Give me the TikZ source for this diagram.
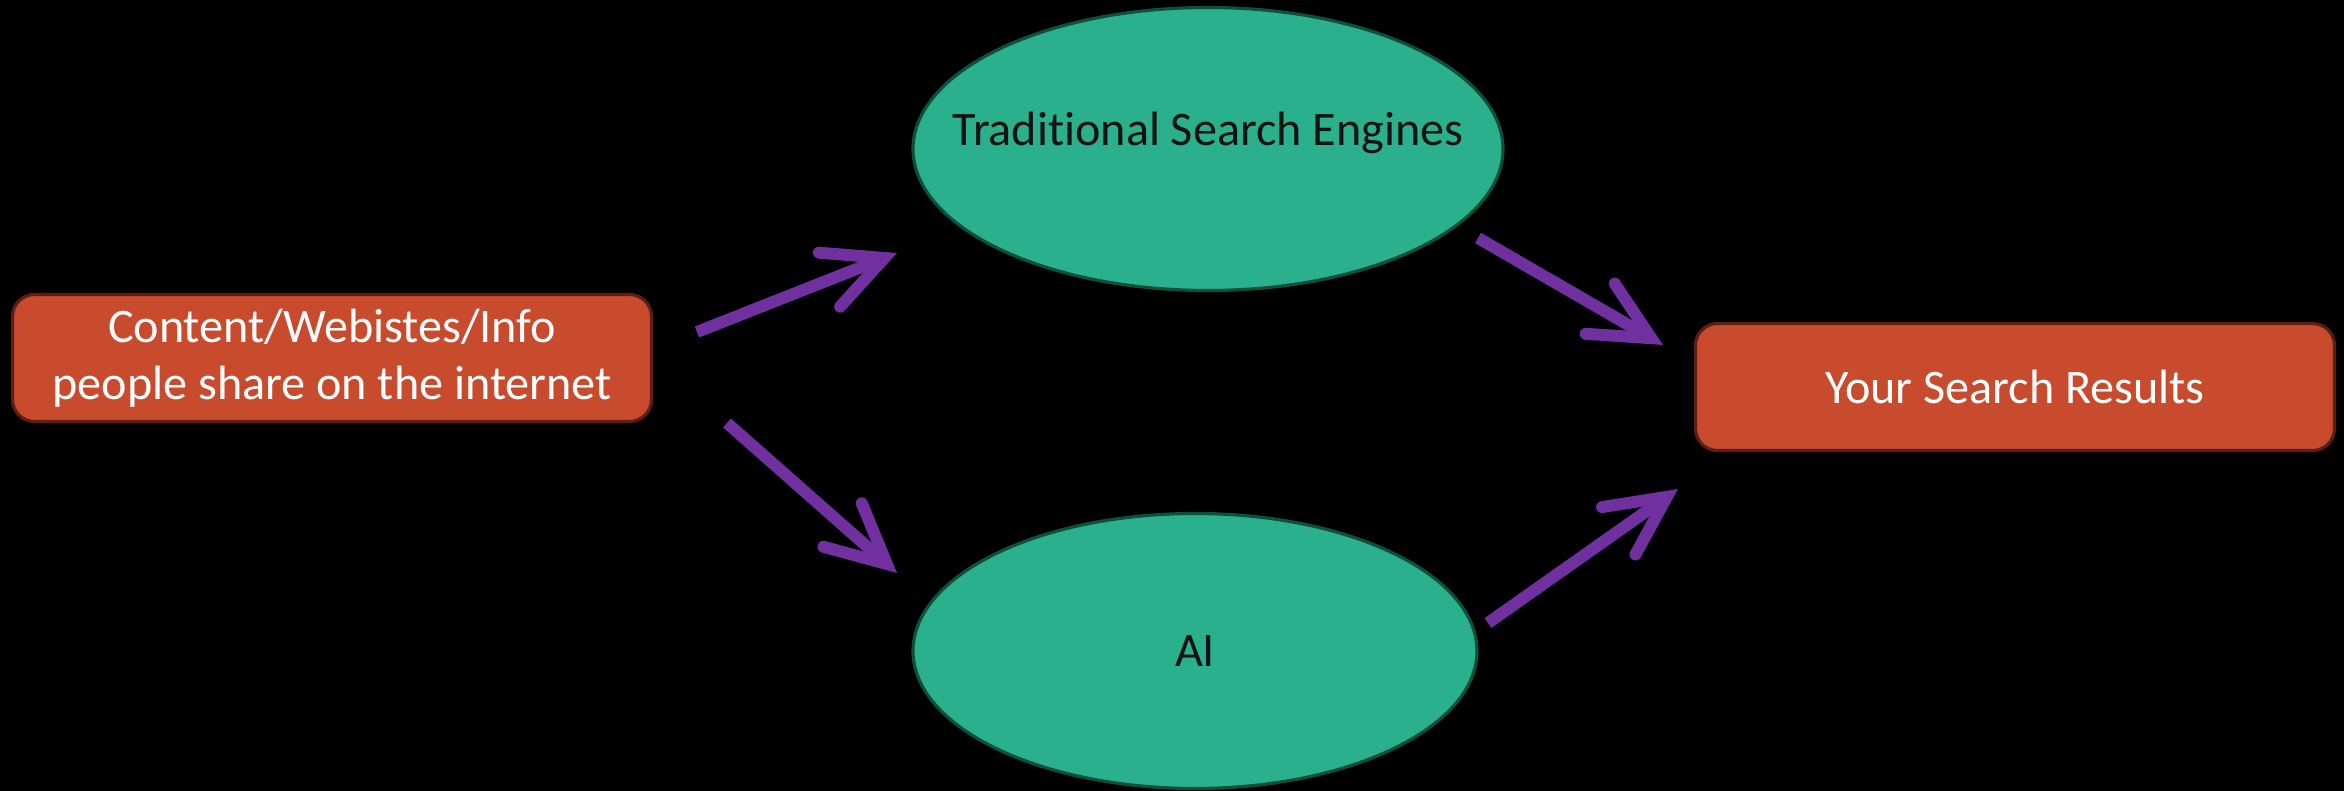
\documentclass[tikz,border=0pt]{standalone}
\usepackage{fontspec}
\setmainfont[Ligatures={NoCommon,NoContextual,NoRare}]{Carlito}
\usetikzlibrary{shapes.geometric, arrows.meta}
\definecolor{boxred}{HTML}{C84B2E}
\definecolor{boxedge}{HTML}{5C1F12}
\definecolor{enggreen}{HTML}{2AB08D}
\definecolor{engedge}{HTML}{0E4F3E}
\definecolor{flowpurple}{HTML}{7030A0}
\begin{document}
\begin{tikzpicture}
[font=\fontsize{13.7pt}{16.3pt}\selectfont]
\tikzstyle{box}=[rectangle, rounded corners=2.2mm, draw=boxedge, line width=0.9pt, fill=boxred, text=white, align=center, minimum width=6.39cm, minimum height=1.27cm]
\tikzstyle{engine}=[ellipse, draw=engedge, line width=0.9pt, fill=enggreen, text=black!93, inner xsep=-0.6cm, inner ysep=0mm]
\tikzstyle{flow}=[draw=flowpurple, line width=3.4pt, -{Straight Barb[length=5.9mm, width=5.8mm, line cap=round, line join=miter]}]

\fill[black] (0,0) rectangle (23.44,7.91);

\node[box]	(src)	at (3.32,4.33)	{Content/Webistes/Info\\people share on the internet};
\node[engine]	(tse)	at (12.08,6.42) [minimum width=5.90cm, minimum height=2.83cm, text height=0.36cm, text depth=0.42cm]	{Traditional Search Engines};
\node[engine]	(ai)	at (11.95,1.40) [minimum width=5.64cm, minimum height=2.75cm]	{AI};
\node[box]	(res)	at (20.15,4.04)	{Your Search Results};

\coordinate (tail1) at (6.97,4.59);
\coordinate (head1) at (8.97,5.38);
\coordinate (tail2) at (7.27,3.68);
\coordinate (head2) at (8.97,2.18);
\coordinate (tail3) at (14.78,5.53);
\coordinate (head3) at (16.63,4.46);
\coordinate (tail4) at (14.88,1.68);
\coordinate (head4) at (16.78,3.02);

\draw[flow]	(tail1)--(head1);
\draw[flow]	(tail2)--(head2);
\draw[flow]	(tail3)--(head3);
\draw[flow]	(tail4)--(head4);
\end{tikzpicture}
\end{document}
